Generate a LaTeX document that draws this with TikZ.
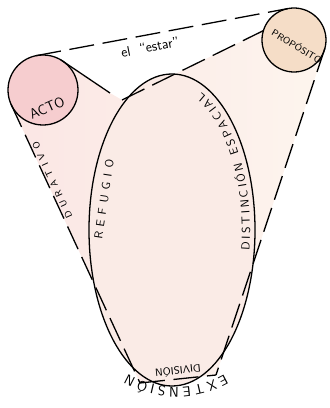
\documentclass[tikz,border=0pt]{standalone}
\usetikzlibrary{shapes.geometric,decorations.text,backgrounds}
\definecolor{pinkbg}{RGB}{251,230,228}
\definecolor{peachbg}{RGB}{253,245,238}
\definecolor{ellfill}{RGB}{250,235,230}
\definecolor{actofill}{RGB}{246,205,207}
\definecolor{propfill}{RGB}{245,221,199}
\begin{document}
\begin{tikzpicture}[x=0.3mm,y=0.3mm,line width=1.1pt]
  \tikzset{circ/.style={draw,circle,inner sep=0pt,outer sep=0pt},
    dsh/.style={dash pattern=on 7.5mm off 2.6mm},
    along/.style={decorate,decoration={text along path,text align={fit to path},text={#1}}}}
  \useasboundingbox (0,0) rectangle (329,408);
  \node[draw,ellipse,fill=ellfill,inner sep=0pt,outer sep=0pt,minimum width=49.8mm,minimum height=93.6mm] (ell) at (172,178) {};
  \node[circ,fill=actofill,minimum size=21mm] (acto) at (43,318) {};
  \node[circ,fill=propfill,minimum size=19.2mm] (prop) at (294,368) {};
  \coordinate (vl) at (110,315);
  \coordinate (ve) at (122,308);
  \coordinate (bl) at (140,25);
  \coordinate (br) at (216,33);
  \begin{scope}[on background layer]
    \path[left color=pinkbg,right color=peachbg] (acto.59) -- (vl) -- (ve) -- (prop.163) -- (prop.345)
      -- (br) -- (bl) -- (acto.204) -- cycle;
  \end{scope}
  \draw[dsh] (acto.101) -- (prop.101);
  \draw (acto.59) -- (vl);
  \draw[dsh] (ve) -- (prop.163);
  \draw[dsh] (prop.345) -- (br);
  \draw[dsh] (acto.204) -- (bl);
  \draw[dsh] (bl) -- (br);
  % labels
  \node[rotate=11,font=\sffamily\large] (estar) at (150,361) {el \ “estar”};
  \node[rotate=24,font=\sffamily\large] (actolbl) at (47,300) {ACTO};
  \node[rotate=-31,font=\sffamily\footnotesize] (proplbl) at (297,362) {PROPÓSITO};
  \node[rotate=186,font=\sffamily\small] (divlbl) at (178,37) {DIVISIÓN};
  \path[along={|\sffamily\footnotesize|DURATIVO}] (72.6,191.8) -- (37.8,266.8);
  \path[along={|\sffamily|REFUGIO}] (102,168) -- (114,248);
  \path[along={|\sffamily|DISTINCIÓN ESPACIAL}] (ell.center) ++(-8:23.4mm and 44.4mm)
    arc[start angle=-8,end angle=68,x radius=23.4mm,y radius=44.4mm];
  \path[along={|\sffamily\large|EXTENSIÓN}] (176,118) ++(-60:29.1mm)
    arc[start angle=-60,end angle=-120,radius=29.1mm];
\end{tikzpicture}
\end{document}
